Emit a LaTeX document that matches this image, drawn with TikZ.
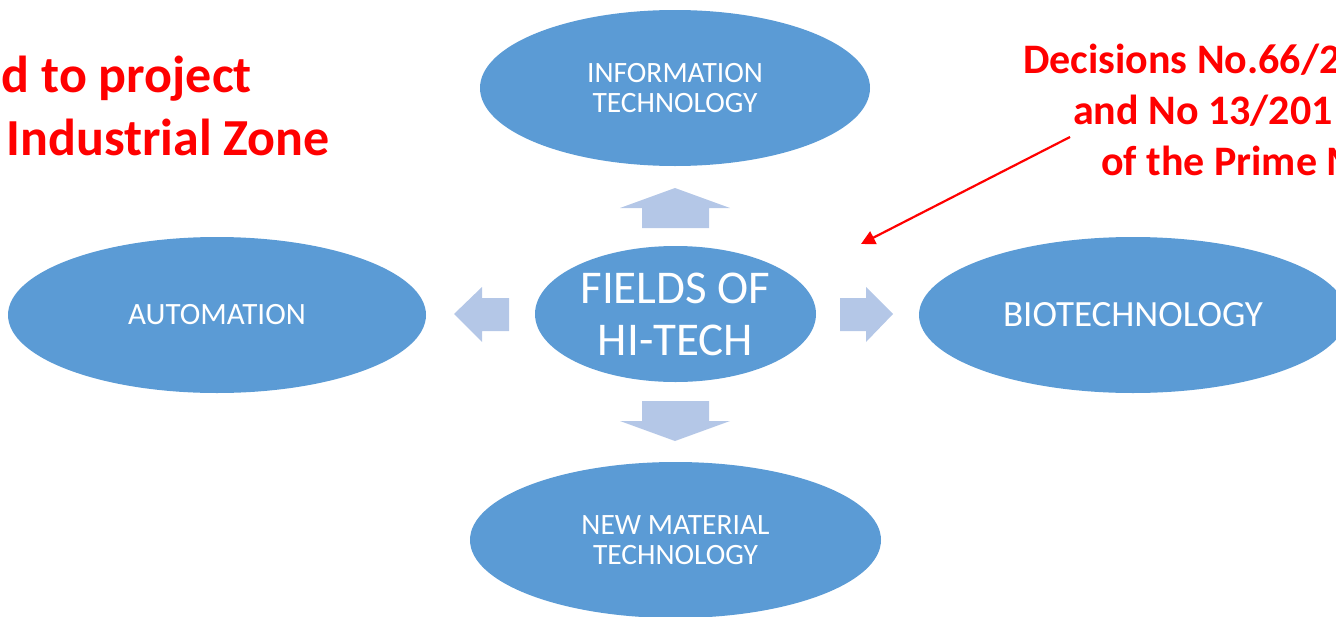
\documentclass[tikz,border=0pt]{standalone}
\usepackage{fontspec}
\setmainfont{Carlito}
\usetikzlibrary{shapes.geometric,arrows.meta}
\definecolor{ellc}{HTML}{5B9BD5}
\definecolor{arrc}{HTML}{B4C7E7}
\definecolor{redc}{HTML}{FF0000}
\tikzset{
  field/.style={ellipse, fill=ellc, draw=none, inner sep=0pt, text=white, align=center},
  blockarrow/.style={fill=arrc, draw=none},
  redtext/.style={text=redc, font=\bfseries\fontsize{52}{63}\selectfont, inner sep=0pt},
  redtextb/.style={text=redc, font=\bfseries\fontsize{42}{51}\selectfont, inner sep=0pt},
  pointer/.style={draw=redc, line width=2.2pt, -{Triangle[length=14pt,width=14pt]}}
}
\begin{document}
\begin{tikzpicture}[x=1pt,y=-1pt]
\useasboundingbox (0,0) rectangle (1336,616);
\clip (0,0) rectangle (1336,616);
% ellipses
\node[field, minimum width=390pt, minimum height=156pt, font=\fontsize{29.5}{30}\selectfont] (info) at (675,88) {INFORMATION\\TECHNOLOGY};
\node[field, minimum width=418pt, minimum height=156pt, font=\fontsize{31}{32}\selectfont] (auto) at (217,315) {AUTOMATION};
\node[field, minimum width=428pt, minimum height=156pt, font=\fontsize{37}{40}\selectfont] (bio) at (1133,315) {BIOTECHNOLOGY};
\node[field, minimum width=411pt, minimum height=156pt, font=\fontsize{29.5}{30}\selectfont] (newmat) at (675.5,540) {NEW MATERIAL\\TECHNOLOGY};
\node[field, minimum width=281pt, minimum height=136pt, font=\fontsize{47}{52}\selectfont] (center) at (675.5,314) {FIELDS OF\\HI-TECH};
% block arrows
\fill[blockarrow] (642,228) -- (642,208) -- (620,208) -- (675,188) -- (730,208) -- (709,208) -- (709,228) -- cycle;
\fill[blockarrow] (642,401) -- (642,421) -- (620,421) -- (675,441) -- (730,421) -- (709,421) -- (709,401) -- cycle;
\fill[blockarrow] (509,298) -- (482,298) -- (482,287) -- (454,314) -- (482,342) -- (482,331) -- (509,331) -- cycle;
\fill[blockarrow] (840,298) -- (866,298) -- (866,287) -- (893,314) -- (866,342) -- (866,331) -- (840,331) -- cycle;
% red texts
\node[redtext, anchor=base east] (l1) at (252,92) {d to project};
\node[redtext, anchor=base east] (l2) at (330,155) {Industrial Zone};
\node[redtextb, anchor=base west] (r1) at (1023,73) {Decisions No.66/2};
\node[redtextb, anchor=base west] (r2) at (1073,124) {and No 13/201};
\node[redtextb, anchor=base west] (r3) at (1101,175) {of the Prime M};
% red pointer
\coordinate (ps) at (1070,137);
\coordinate (pe) at (861,244);
\draw[pointer] (ps) -- (pe);
\end{tikzpicture}
\end{document}
